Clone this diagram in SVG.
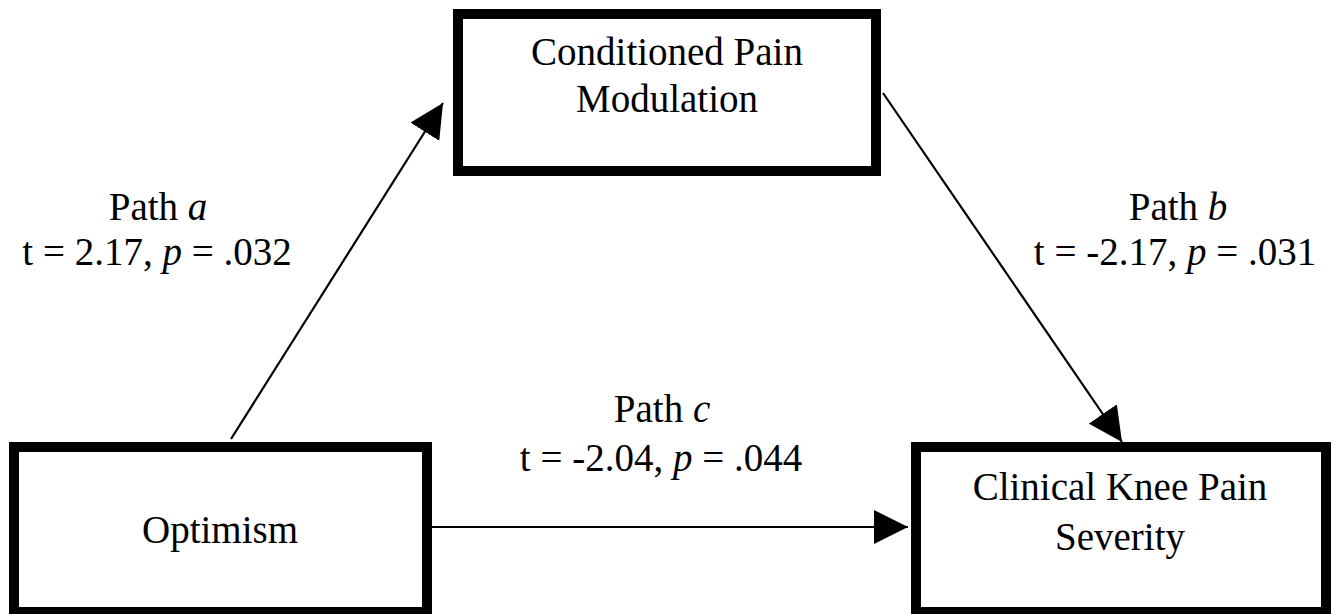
<svg xmlns="http://www.w3.org/2000/svg" width="1339" height="614" viewBox="0 0 1339 614">
<style>
.box{fill:#fff;stroke:#000;stroke-width:10}
.lbl{font-family:"Liberation Serif","Times New Roman",serif;font-size:39px;fill:#000;text-anchor:middle}
.it{font-style:italic}
.conn{stroke:#000;stroke-width:2.2;fill:none;marker-end:url(#ah)}
</style>
<defs>
<marker id="ah" markerUnits="userSpaceOnUse" markerWidth="34" markerHeight="34" viewBox="0 0 32 32" refX="32" refY="16" orient="auto">
<path d="M0,0 L32,16 L0,32 z" fill="#000"/>
</marker>
</defs>
<rect width="1339" height="614" fill="#fff"/>
<g id="connectors">
<line class="conn" x1="231" y1="439" x2="443" y2="103"/>
<line class="conn" x1="883" y1="93" x2="1122" y2="442"/>
<line class="conn" x1="432" y1="527" x2="908" y2="527"/>
</g>
<g id="node-cpm">
<rect class="box" x="458" y="14" width="418" height="157"/>
<text class="lbl" x="667" y="65">Conditioned Pain</text>
<text class="lbl" x="667" y="112">Modulation</text>
</g>
<g id="node-optimism">
<rect class="box" x="14" y="447" width="413" height="165"/>
<text class="lbl" x="220" y="543">Optimism</text>
</g>
<g id="node-knee">
<rect class="box" x="916" y="447" width="410" height="165"/>
<text class="lbl" x="1120" y="500">Clinical Knee Pain</text>
<text class="lbl" x="1120" y="550">Severity</text>
</g>
<g id="label-a">
<text class="lbl" x="158" y="220">Path <tspan class="it">a</tspan></text>
<text class="lbl" x="157" y="265">t = 2.17, <tspan class="it">p</tspan> = .032</text>
</g>
<g id="label-b">
<text class="lbl" x="1178" y="220">Path <tspan class="it">b</tspan></text>
<text class="lbl" x="1175" y="265">t = -2.17, <tspan class="it">p</tspan> = .031</text>
</g>
<g id="label-c">
<text class="lbl" x="662" y="422">Path <tspan class="it">c</tspan></text>
<text class="lbl" x="661" y="471">t = -2.04, <tspan class="it">p</tspan> = .044</text>
</g>
</svg>
